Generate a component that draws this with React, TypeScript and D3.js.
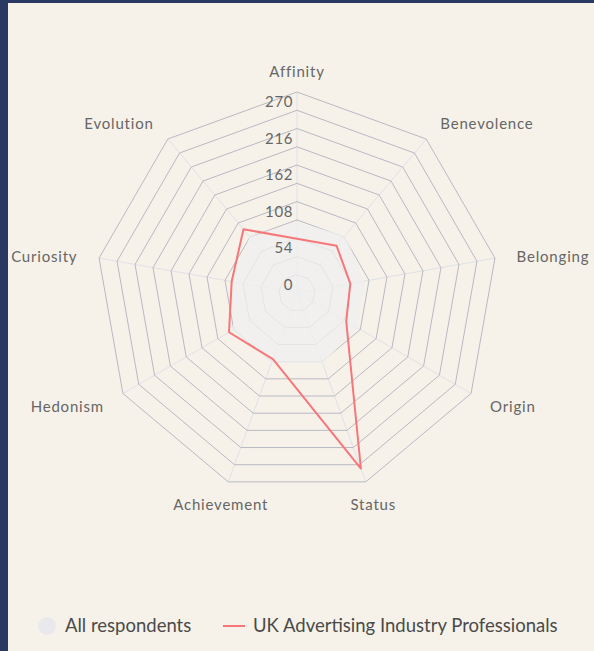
import * as d3 from 'd3'

const categories = ['Affinity', 'Benevolence', 'Belonging', 'Origin', 'Status', 'Achievement', 'Hedonism', 'Curiosity', 'Evolution']
const allRespondents = [78, 84, 74, 76, 84, 84, 82, 70, 82]
const ukProfessionals = [53, 64, 53, 57, 249, 77, 89, 71, 96]
const gridValues = [0, 27, 54, 81, 108, 135, 162, 189, 216, 243, 270]
const tickLabels = [0, 54, 108, 162, 216, 270]
const seriesNames = ['All respondents', 'UK Advertising Industry Professionals']

const W = 594
const H = 651
const cx = 297
const cy = 293
const font = 'Lato, "Source Sans Pro", sans-serif'

export default function App() {
  // angle per category, clockwise from the top
  const angle = d3.scalePoint<string>().domain(categories).range([0, 2 * Math.PI * (1 - 1 / categories.length)])
  // Highcharts leaves a gap at the centre, so 0 is one step out
  const r = d3.scaleLinear().domain([-27, 270]).range([0, 201])

  const ring = d3.lineRadial<string>()
    .angle(c => angle(c)!)
    .radius(0)
    .curve(d3.curveLinearClosed)

  const seriesLine = (vals: number[]) =>
    d3.lineRadial<number>()
      .angle((_, i) => angle(categories[i])!)
      .radius(v => r(v))
      .curve(d3.curveLinearClosed)(vals)

  const labelR = r(270) + 22

  return (
    <svg width={W} height={H} style={{ position: 'absolute', left: 0, top: 0 }} fontFamily={font}>
      <rect width={W} height={H} fill="#f6f2e9" />
      <rect width={8} height={H} fill="#2a3962" />
      <rect width={W} height={3} fill="#2a3962" />

      <g transform={`translate(${cx},${cy})`}>
        {/* spokes */}
        {categories.map(c => {
          const a = angle(c)!
          return (
            <line key={c} x1={0} y1={0}
              x2={Math.sin(a) * r(270)} y2={-Math.cos(a) * r(270)}
              stroke="#e0e0e8" strokeWidth={1} />
          )
        })}
        {/* rings */}
        {gridValues.map(v => (
          <path key={v} d={ring.radius(r(v))(categories)!} fill="none" stroke="#b9b9c3" strokeWidth={1} />
        ))}

        {/* all respondents area */}
        <path d={seriesLine(allRespondents)!} fill="#efefef" fillOpacity={0.78} stroke="none" />

        {/* UK professionals line */}
        <path d={seriesLine(ukProfessionals)!} fill="none" stroke="#f7767a" strokeWidth={2} strokeLinejoin="round" />

        {/* radial tick labels */}
        {tickLabels.map(v => (
          <text key={v} x={-4} y={-r(v) + 10} dy="0.35em" textAnchor="end" fontSize={15} letterSpacing={0.6} fill="#666">{v}</text>
        ))}

        {/* category labels */}
        {categories.map(c => {
          const a = angle(c)!
          const x = Math.sin(a) * labelR
          const y = -Math.cos(a) * labelR + 2
          const s = Math.sin(a)
          const anchor = Math.abs(s) < 0.4 ? 'middle' : s > 0 ? 'start' : 'end'
          return (
            <text key={c} x={x} y={y} dy="0.35em" textAnchor={anchor} fontSize={15} letterSpacing={0.8} fill="#666">{c}</text>
          )
        })}
      </g>

      {/* legend */}
      <g transform="translate(0,626)" fontSize={18.5} fill="#4a4a4a">
        <circle cx={47} cy={0} r={9} fill="#e9e9ed" />
        <text x={65} y={0} dy="0.35em">{seriesNames[0]}</text>
        <line x1={223} x2={245} y1={0} y2={0} stroke="#f7767a" strokeWidth={2} />
        <text x={253} y={0} dy="0.35em">{seriesNames[1]}</text>
      </g>
    </svg>
  )
}
